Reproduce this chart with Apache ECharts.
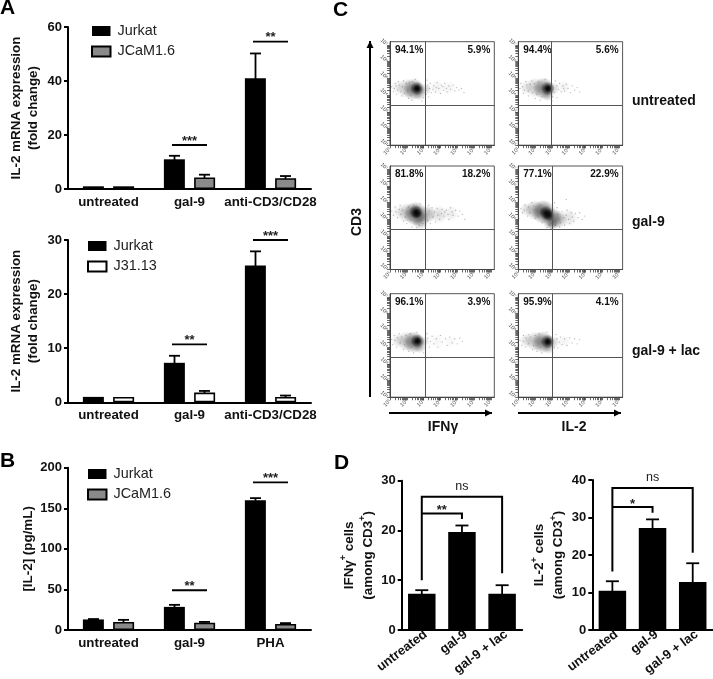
<!DOCTYPE html>
<html><head><meta charset="utf-8">
<style>html,body{margin:0;padding:0;background:#fff}#c{width:713px;height:679px}</style>
<script src="https://cdn.jsdelivr.net/npm/echarts@6/dist/echarts.min.js"></script>
</head><body><div id="c"></div>
<script>
// ---------- values ----------
const catsA = ['untreated','gal-9','anti-CD3/CD28'];
const catsB = ['untreated','gal-9','PHA'];
const catsD = ['untreated','gal-9','gal-9 + lac'];

const a1Jurkat = [1, 11, 41];          const a1JurkatErr = [0, 1.3, 9.2];
const a1JCaM   = [1, 4.3, 4.0];        const a1JCaMErr   = [0, 1.0, 0.8];
const a2Jurkat = [1, 7.3, 25.3];       const a2JurkatErr = [0, 1.3, 2.6];
const a2J31    = [1, 1.8, 1.0];        const a2J31Err    = [0, 0.3, 0.25];
const bJurkat  = [13, 28.5, 160];      const bJurkatErr  = [0.5, 2.5, 2.5];
const bJCaM    = [10, 9, 7.5];         const bJCaMErr    = [2.5, 1, 1];
const d1Vals   = [7.3, 19.7, 7.3];     const d1Err = [0.7, 1.3, 1.7];
const d2Vals   = [10.5, 27.2, 12.8];   const d2Err = [2.5, 2.3, 5.0];

const a1Sig = [[1, 16.3, '***'], [2, 54.6, '**']];
const a2Sig = [[1, 10.7, '**'],  [2, 30, '***']];
const bSig  = [[1, 49, '**'],    [2, 182, '***']];
// from, to, bracket top, left foot, right foot, label
const d1Br = [[0, 2, 26.8, 10, 11.4, 'ns'], [0, 1, 23.4, 23.4, 22.3, '**']];
const d2Br = [[0, 2, 37.9, 15.6, 20.6, 'ns'], [0, 1, 32.8, 32.8, 31.3, '*']];

const facsTicks = ['10¹','10²','10³','10⁴','10⁵','10⁶','10⁷','10⁷·²'];
const rowNames = ['untreated','gal-9','gal-9 + lac'];
const pctLow  = ['94.1%','94.4%','81.8%','77.1%','96.1%','95.9%'];
const pctHigh = ['5.9%','5.6%','18.2%','22.9%','3.9%','4.1%'];
const gateX = [3.1, 2.97, 3.1, 3.0, 3.1, 3.0];
const gateY = [3.4, 3.4, 3.4, 3.4, 3.4, 3.4];

// density estimates: x, y, blob diameter, strength (axis units are log decades)
const p1Blobs = [[1.5,4.45,14,.1],[2.0,4.4,20,.22],[2.4,4.35,22,.5],[2.75,4.1,14,.28],[3.1,4.35,12,.22],[2.6,4.4,14,.9],[2.62,4.4,8,.9],[3.8,4.45,16,.06],[4.5,4.45,14,.05]];
const p2Blobs = [[1.5,4.45,14,.12],[2.0,4.45,20,.22],[2.5,4.4,22,.5],[2.75,4.05,14,.28],[3.1,4.4,12,.18],[2.75,4.4,14,.9],[2.77,4.4,8,.9],[3.7,4.5,14,.06]];
const p3Blobs = [[1.5,4.45,14,.08],[2.0,4.4,20,.25],[2.5,4.35,24,.62],[2.8,3.95,18,.4],[3.2,4.3,18,.32],[3.9,4.3,18,.15],[4.6,4.35,16,.09],[2.55,4.45,14,.9],[2.6,4.35,10,.85]];
const p4Blobs = [[1.5,4.6,14,.15],[2.0,4.55,20,.32],[2.5,4.45,24,.62],[3.0,4.05,22,.52],[3.4,4.0,18,.28],[4.0,4.1,18,.12],[2.65,4.4,14,.9],[2.8,4.25,12,.85],[3.0,3.75,12,.3]];
const p5Blobs = [[1.5,4.4,14,.15],[2.0,4.35,20,.25],[2.4,4.3,22,.5],[2.75,4.05,14,.28],[3.05,4.35,10,.18],[2.62,4.37,14,.9],[2.64,4.37,8,.9],[3.8,4.35,16,.04],[4.6,4.35,12,.04]];
const p6Blobs = [[1.5,4.4,14,.15],[2.0,4.35,20,.25],[2.45,4.3,22,.5],[2.8,4.0,14,.28],[3.1,4.3,12,.18],[2.74,4.33,14,.9],[2.76,4.33,8,.9],[3.7,4.35,14,.05]];

// scattered single events
const p1Specks = [[1.1,4.5],[1.2,4.2],[1.3,4.7],[1.4,4.05],[1.5,4.8],[1.7,3.95],[1.8,4.85],[2.1,3.8],[2.3,3.7],[2.5,4.95],[2.9,3.65],[3.2,4.9],[3.3,3.9],[3.4,4.7],[3.45,4.15],[3.6,4.55],[3.7,4.2],[3.8,4.75],[3.9,4.4],[4.0,4.1],[4.05,4.6],[4.2,4.3],[4.25,4.7],[4.4,4.2],[4.5,4.55],[4.6,4.35],[4.75,4.6],[4.85,4.25],[4.95,4.45],[5.1,4.3],[5.25,4.4],[5.4,4.15],[1.25,4.4],[1.35,4.55],[1.45,4.3],[1.55,4.6],[1.65,4.2],[1.75,4.5],[1.85,4.1],[1.95,4.7],[2.05,4.25],[2.15,4.75],[2.25,4.0],[2.35,4.8],[3.0,3.85],[3.15,4.05],[3.25,4.6],[3.35,4.4],[3.55,4.35],[3.75,4.45],[4.15,4.5],[4.35,4.4]];
const p2Specks = [[1.1,4.4],[1.15,4.7],[1.3,4.1],[1.45,4.8],[1.6,3.95],[1.8,4.85],[2.0,3.8],[2.3,3.7],[2.6,4.95],[3.0,3.65],[3.2,4.85],[3.3,3.85],[3.45,4.7],[3.55,4.2],[3.65,4.55],[3.75,4.25],[3.85,4.65],[3.95,4.4],[4.1,4.15],[4.2,4.55],[4.35,4.3],[4.5,4.45],[4.65,4.2],[1.25,4.5],[1.35,4.3],[1.5,4.6],[1.6,4.25],[1.7,4.65],[1.85,4.15],[1.95,4.7],[2.1,4.05],[2.2,4.8],[2.4,3.9],[3.05,3.9],[3.15,4.15],[3.3,4.55],[3.4,4.35],[3.7,4.4]];
const p3Specks = [[1.1,4.5],[1.2,4.25],[1.3,4.75],[1.45,4.1],[1.6,4.85],[1.8,3.9],[2.0,3.75],[2.3,3.55],[2.6,3.5],[2.8,4.95],[3.1,3.6],[3.3,4.85],[3.4,3.75],[3.5,4.7],[3.7,3.85],[3.8,4.65],[3.95,4.0],[4.1,4.6],[4.2,4.2],[4.35,4.55],[4.5,4.0],[4.6,4.7],[4.75,4.25],[4.9,4.55],[5.05,4.2],[5.15,4.5],[5.3,4.3],[5.45,4.0],[1.35,4.45],[1.55,4.6],[1.65,4.3],[1.75,4.55],[1.9,4.15],[2.1,4.75],[2.25,3.95],[2.4,4.85],[3.25,3.95],[3.35,4.5],[3.55,4.15],[3.65,4.45],[3.85,4.25],[4.05,4.35],[4.25,4.45],[4.45,4.3],[4.7,4.45],[2.75,3.65],[2.95,3.75]];
const p4Specks = [[1.15,4.65],[1.25,4.4],[1.4,4.85],[1.55,4.2],[1.8,5.0],[2.0,4.05],[2.4,3.8],[2.7,3.5],[2.95,3.45],[3.15,5.0],[3.3,4.7],[3.45,3.55],[3.6,4.5],[3.75,3.65],[3.9,4.55],[4.05,3.75],[4.15,4.4],[4.3,3.9],[4.4,4.35],[4.55,4.1],[4.65,4.4],[4.8,4.0],[4.95,4.2],[3.85,5.2],[1.35,4.55],[1.6,4.75],[1.7,4.4],[1.9,4.8],[2.15,4.2],[2.3,4.85],[3.35,4.3],[3.5,3.8],[3.7,4.1],[3.85,4.25],[4.0,4.0],[4.2,4.15],[3.2,3.65],[2.85,3.65]];
const p5Specks = [[1.1,4.45],[1.15,4.15],[1.25,4.7],[1.4,4.0],[1.55,4.8],[1.8,3.85],[2.1,3.75],[2.4,3.65],[2.6,4.9],[3.0,3.65],[3.2,4.8],[3.35,4.0],[3.5,4.65],[3.6,4.2],[3.75,4.5],[3.85,4.0],[4.0,4.7],[4.1,4.3],[4.3,4.5],[4.4,4.1],[4.55,4.6],[4.7,4.25],[4.85,4.5],[5.0,4.2],[5.15,4.55],[5.3,4.35],[1.3,4.4],[1.45,4.55],[1.6,4.25],[1.7,4.6],[1.85,4.15],[1.95,4.7],[2.2,4.8],[2.3,4.0],[3.1,3.95],[3.25,4.55],[3.4,4.35]];
const p6Specks = [[1.1,4.4],[1.2,4.1],[1.3,4.7],[1.45,4.0],[1.6,4.75],[1.85,3.85],[2.1,3.75],[2.4,3.65],[2.7,4.9],[3.05,3.65],[3.25,4.75],[3.35,3.95],[3.5,4.6],[3.6,4.15],[3.75,4.5],[3.9,4.1],[4.05,4.55],[4.2,4.25],[4.35,4.5],[4.5,4.2],[4.65,4.45],[1.3,4.35],[1.45,4.55],[1.6,4.2],[1.75,4.6],[1.9,4.1],[2.0,4.7],[2.25,4.8],[2.35,4.0],[3.15,4.0],[3.3,4.5],[3.45,4.3]];

const facsBlobs = [p1Blobs,p2Blobs,p3Blobs,p4Blobs,p5Blobs,p6Blobs];
const facsSpecks = [p1Specks,p2Specks,p3Specks,p4Specks,p5Specks,p6Specks];

// ---------- styling ----------
const FONT = '"Liberation Sans", Arial, sans-serif';
const BLACK = '#000', GREY = '#8a8a8a', TXT = '#111';
const grids = [], xAxes = [], yAxes = [], series = [], legends = [], graphic = [];

function errSeries(gi, vals, errs, dx, cap){
  series.push({type:'custom', xAxisIndex:gi, yAxisIndex:gi, z:1, silent:true,
    data: vals.map((v,i)=>[i, v, errs[i]]),
    encode:{x:0,y:1},
    renderItem(p, api){
      const e = api.value(2); if(!e) return {type:'group',children:[]};
      const i = api.value(0), v = api.value(1);
      const top = api.coord([i, v+e]), low = api.coord([i, v-e]);
      const x = top[0]+dx, st = {stroke:BLACK, lineWidth:1.8};
      return {type:'group',children:[
        {type:'line',shape:{x1:x,y1:low[1],x2:x,y2:top[1]},style:st},
        {type:'line',shape:{x1:x-cap,y1:top[1],x2:x+cap,y2:top[1]},style:st},
        {type:'line',shape:{x1:x-cap,y1:low[1],x2:x+cap,y2:low[1]},style:st}
      ]};
    }});
}
function sigSeries(gi, list){
  series.push({type:'custom', xAxisIndex:gi, yAxisIndex:gi, z:3, silent:true,
    data:list.map(s=>[s[0],s[1]]), encode:{x:0,y:1}, clip:false,
    renderItem(p, api){
      const c = api.coord([api.value(0), api.value(1)]);
      return {type:'group',children:[
        {type:'line',shape:{x1:c[0]-17.5,y1:c[1],x2:c[0]+17.5,y2:c[1]},style:{stroke:BLACK,lineWidth:1.8}},
        {type:'text',style:{text:list[p.dataIndex][2],x:c[0],y:c[1]-4,align:'center',verticalAlign:'middle',fill:'#222',font:'bold 13px '+FONT}}
      ]};
    }});
}
function brSeries(gi, list){
  series.push({type:'custom', xAxisIndex:gi, yAxisIndex:gi, z:3, silent:true, clip:false,
    data:list.map(b=>[b[0],b[1],b[2],b[3],b[4]]), encode:{x:0,y:2},
    renderItem(p, api){
      const a = api.coord([api.value(0), api.value(2)]), b = api.coord([api.value(1), api.value(2)]);
      const fa = api.coord([api.value(0), api.value(3)]), fb = api.coord([api.value(1), api.value(4)]);
      const lab = list[p.dataIndex][5], isNs = lab==='ns';
      return {type:'group',children:[
        {type:'polyline',shape:{points:[[a[0],fa[1]],[a[0],a[1]],[b[0],b[1]],[b[0],fb[1]]]},style:{stroke:BLACK,lineWidth:2,fill:null}},
        {type:'text',style:{text:lab,x:(a[0]+b[0])/2,y:a[1]-(isNs?10:3),align:'center',verticalAlign:'middle',fill:'#222',font:(isNs?'':'bold ')+(isNs?'12.5px ':'13px ')+FONT}}
      ]};
    }});
}
function barAxes(gi, box, cats, max, step, name, nameGap, rot, xFont){
  grids.push(Object.assign({containLabel:false, outerBoundsMode:'none'}, box));
  xAxes.push({type:'category', gridIndex:gi, data:cats,
    axisLine:{lineStyle:{color:BLACK,width:2}}, axisTick:{show:false},
    axisLabel:{interval:0, rotate:rot, margin:rot?6:7, padding:rot?[0,-5,0,0]:0, color:TXT, fontFamily:FONT, fontWeight:'bold', fontSize:xFont}});
  yAxes.push({type:'value', gridIndex:gi, min:0, max, interval:step, splitLine:{show:false},
    axisLine:{show:true,lineStyle:{color:BLACK,width:2}},
    axisTick:{show:true,length:4,lineStyle:{color:BLACK,width:2}},
    axisLabel:{margin:6, color:TXT, fontFamily:FONT, fontWeight:'bold', fontSize:13},
    name, nameLocation:'middle', nameGap, nameRotate:90,
    nameTextStyle:{color:TXT, fontFamily:FONT, fontWeight:'bold', fontSize:13.4, lineHeight:17,
      rich:{s:{fontSize:9,fontWeight:'bold',fontFamily:FONT,verticalAlign:'top',lineHeight:19,color:TXT},
            t:{fontSize:13.4,fontWeight:'bold',fontFamily:FONT,lineHeight:19,color:TXT}}}});
}
function groupPanel(gi, box, cats, max, step, name, gap, n1, v1, e1, n2, v2, e2, col2, sig, legPos){
  barAxes(gi, box, cats, max, step, name, gap, 0, 13.3);
  const mk = (n,v,color,bw)=>({type:'bar', name:n, xAxisIndex:gi, yAxisIndex:gi, data:v, barWidth:21, barGap:'44%', z:2, silent:true,
    itemStyle:{color, borderColor:BLACK, borderWidth:bw}});
  series.push(mk(n1,v1,BLACK,0), mk(n2,v2,col2,1.6));
  errSeries(gi, v1, e1, -15, 5.5);
  errSeries(gi, v2, e2, 15, 5.5);
  sigSeries(gi, sig);
  legends.push({data:[n1,n2], orient:'vertical', left:legPos[0], top:legPos[1], itemWidth:18.5, itemHeight:10, itemGap:6.5, icon:'rect', selectedMode:false,
    padding:0, textStyle:{color:'#222',fontFamily:FONT,fontSize:14.4,padding:[0,0,0,2]}});
}

groupPanel(0,{left:68,top:27,width:243,height:162},catsA,60,20,'IL-2 mRNA expression\n(fold change)',26,
  'Jurkat',a1Jurkat,a1JurkatErr,'JCaM1.6',a1JCaM,a1JCaMErr,GREY,a1Sig,[91,24]);
groupPanel(1,{left:68,top:240,width:243,height:162.3},catsA,30,10,'IL-2 mRNA expression\n(fold change)',26,
  'Jurkat',a2Jurkat,a2JurkatErr,'J31.13',a2J31,a2J31Err,'#fff',a2Sig,[87,239]);
groupPanel(2,{left:68,top:467.7,width:243,height:162.3},catsB,200,50,'[IL-2] (pg/mL)',29,
  'Jurkat',bJurkat,bJurkatErr,'JCaM1.6',bJCaM,bJCaMErr,GREY,bSig,[87,467]);

// ---------- panel C: flow plots ----------
const decadeParts = [0.3,0.48,0.6,0.7,0.78,0.85,0.9,0.95];
const logTicks = [];
for(let d=1;d<7;d++){ logTicks.push(d); decadeParts.forEach(f=>logTicks.push(+(d+f).toFixed(2))); }
logTicks.push(7,7.2);
const decadeVals = [1,2,3,4,5,6,7,7.2];
const softDot = {type:'radial',x:.5,y:.5,r:.5,colorStops:[{offset:0,color:'rgba(0,0,0,1)'},{offset:.55,color:'rgba(0,0,0,.55)'},{offset:1,color:'rgba(0,0,0,0)'}]};
const colX = [390,518.3], rowY = [41.7,166,293.7], FW=104.3, FH=103.5;
const labelFor = v => facsTicks[decadeVals.indexOf(v)] || '';
for(let k=0;k<6;k++){
  const gi = 3+k, cx = colX[k%2], cy = rowY[k>>1];
  grids.push({left:cx, top:cy, width:FW, height:FH, show:true, borderColor:'#555', borderWidth:1, backgroundColor:'transparent', outerBoundsMode:'none'});
  const ax = {gridIndex:gi, type:'value', min:1, max:7.2, splitLine:{show:false},
    axisLine:{show:true,lineStyle:{color:'#444',width:1}},
    axisTick:{show:true,length:3,customValues:logTicks,lineStyle:{color:'#444',width:.8}}};
  xAxes.push(Object.assign({},ax,{axisLabel:{customValues:decadeVals,formatter:labelFor,rotate:45,margin:3,fontSize:5.5,color:'#444',fontFamily:FONT}}));
  yAxes.push(Object.assign({},ax,{axisLabel:{customValues:decadeVals,formatter:labelFor,rotate:-45,margin:3,fontSize:5.5,color:'#444',fontFamily:FONT}}));
  series.push({type:'scatter', xAxisIndex:gi, yAxisIndex:gi, silent:true, z:2,
    data:facsBlobs[k].map(b=>({value:[b[0],b[1]],symbolSize:b[2],itemStyle:{color:softDot,opacity:b[3]}})),
    markLine:{silent:true,symbol:'none',animation:false,label:{show:false},lineStyle:{color:'#555',width:1,type:'solid'},
      data:[{xAxis:gateX[k]},{yAxis:gateY[k]}]}});
  series.push({type:'scatter', xAxisIndex:gi, yAxisIndex:gi, silent:true, z:3,
    symbolSize:1.3, itemStyle:{color:'#555',opacity:.42}, data:facsSpecks[k]});
  graphic.push({type:'text',left:cx+5,top:cy+3.5,style:{text:pctLow[k],fill:TXT,font:'bold 10px '+FONT}});
  graphic.push({type:'text',right:713-(cx+FW-4),top:cy+3.5,style:{text:pctHigh[k],fill:TXT,font:'bold 10px '+FONT}});
}
// row labels
[102,223,352].forEach((y,i)=>graphic.push({type:'text',left:632,top:y-8,style:{text:rowNames[i],fill:TXT,font:'bold 14px '+FONT}}));
// CD3 and the arrows
graphic.push({type:'text',x:357,y:222,rotation:Math.PI/2,style:{text:'CD3',align:'center',verticalAlign:'middle',fill:TXT,font:'bold 14px '+FONT}});
const arrow = (x1,y1,x2,y2)=>{
  graphic.push({type:'line',shape:{x1,y1,x2,y2},style:{stroke:BLACK,lineWidth:2}});
  const pts = x1===x2 ? [[x2-3.5,y2+7],[x2+3.5,y2+7],[x2,y2]] : [[x2-7,y2-3.5],[x2-7,y2+3.5],[x2,y2]];
  graphic.push({type:'polygon',shape:{points:pts},style:{fill:BLACK}});
};
arrow(370,397,370,41);
arrow(389,413,492,413);
arrow(518,413,621,413);
graphic.push({type:'text',x:443,y:427,style:{text:'IFNγ',align:'center',verticalAlign:'middle',fill:TXT,font:'bold 14px '+FONT}});
graphic.push({type:'text',x:574,y:427,style:{text:'IL-2',align:'center',verticalAlign:'middle',fill:TXT,font:'bold 14px '+FONT}});
// panel letters
[['A',0,-2],['B',0,451],['C',333,0],['D',334,453]].forEach(l=>
  graphic.push({type:'text',x:l[1],y:l[2],style:{text:l[0],fill:BLACK,font:'bold 21px '+FONT}}));

// ---------- panel D ----------
function singlePanel(gi, box, max, step, name, gap, vals, errs, br){
  barAxes(gi, box, catsD, max, step, name, gap, 37, 13);
  series.push({type:'bar', xAxisIndex:gi, yAxisIndex:gi, data:vals, barWidth:27.5, silent:true, z:2, itemStyle:{color:BLACK}});
  errSeries(gi, vals, errs, 0, 6.5);
  brSeries(gi, br);
}
singlePanel(9,{left:401.7,top:480.7,width:120.5,height:149.3},30,10,'{t|IFNγ}{s|+}{t| cells}\n{t|(among CD3}{s|+}{t|)}',24,d1Vals,d1Err,d1Br);
singlePanel(10,{left:592.3,top:480,width:120.5,height:150},40,10,'{t|IL-2}{s|+}{t| cells}\n{t|(among CD3}{s|+}{t|)}',24,d2Vals,d2Err,d2Br);

const chart = echarts.init(document.getElementById('c'),null,{renderer:'canvas'});
chart.setOption({animation:false, backgroundColor:'#fff', textStyle:{fontFamily:FONT},
  grid:grids, xAxis:xAxes, yAxis:yAxes, series, legend:legends, graphic:{elements:graphic}, tooltip:{show:false}});
</script></body></html>
